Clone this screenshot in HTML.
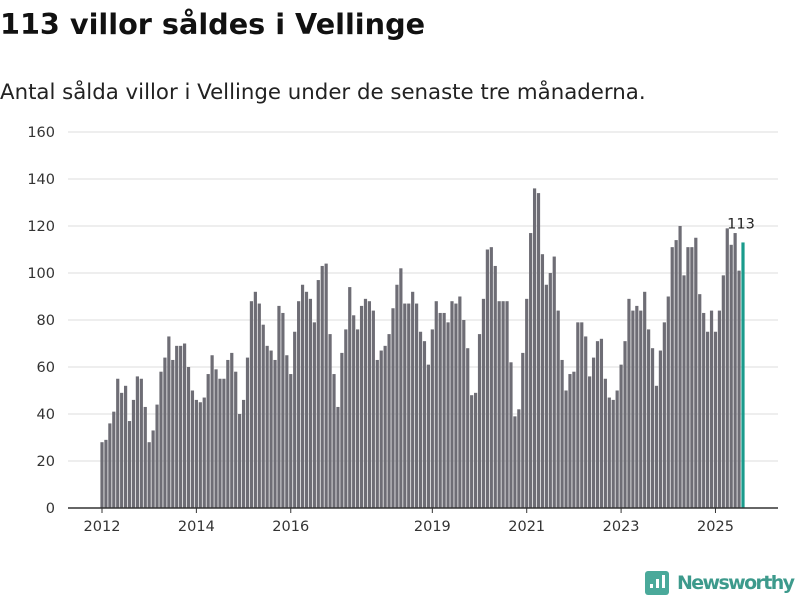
<!DOCTYPE html>
<html><head><meta charset="utf-8"><style>
body{margin:0;background:#fff;font-family:"DejaVu Sans",sans-serif;}
#wrap{position:relative;width:800px;height:600px;overflow:hidden}
h1{position:absolute;left:0px;top:7px;margin:0;font-size:28.7px;font-weight:bold;color:#111}
p{position:absolute;left:0px;top:80px;margin:0;font-size:21.3px;color:#222}
</style></head><body>
<div id="wrap">
<h1>113 villor såldes i Vellinge</h1>
<p>Antal sålda villor i Vellinge under de senaste tre månaderna.</p>
<svg id="chart" width="800" height="600" style="position:absolute;left:0;top:0"></svg>
</div>
<script>
const yTicks=[0,20,40,60,80,100,120,140,160];
const xTickLabels=["2012","2014","2016","2019","2021","2023","2025"];
const xTickIndex=[0,24,48,84,108,132,156];
const values=[
28,29,36,41,55,49,52,37,46,56,55,43,
28,33,44,58,64,73,63,69,69,70,60,50,
46,45,47,57,65,59,55,55,63,66,58,40,
46,64,88,92,87,78,69,67,63,86,83,65,
57,75,88,95,92,89,79,97,103,104,74,57,
43,66,76,94,82,76,86,89,88,84,63,67,
69,74,85,95,102,87,87,92,87,75,71,61,
76,88,83,83,79,88,87,90,80,68,48,49,
74,89,110,111,103,88,88,88,62,39,42,66,
89,117,136,134,108,95,100,107,84,63,50,57,
58,79,79,73,56,64,71,72,55,47,46,50,
61,71,89,84,86,84,92,76,68,52,67,79,
90,111,114,120,99,111,111,115,91,83,75,84,
75,84,99,119,112,117,101,113];
const NS="http://www.w3.org/2000/svg";
const svg=document.getElementById('chart');
const y0=508,ppu=(508-132)/160,x0=102,step=(743-102)/(values.length-1);
const ys=v=>y0-v*ppu, xs=i=>x0+i*step;
const FONT='DejaVu Sans, sans-serif';
function mk(t,a){const e=document.createElementNS(NS,t);for(const k in a)e.setAttribute(k,a[k]);svg.appendChild(e);return e;}
yTicks.forEach(v=>{
  if(v>0){const g=mk('line',{x1:68,x2:778,y1:ys(v),y2:ys(v),stroke:'#dedede','stroke-width':1});
  
  }
  const t=mk('text',{x:55,y:ys(v)+5,'text-anchor':'end','font-size':14.5,fill:'#333','font-family':FONT});
  t.textContent=v;
  
  
});
values.forEach((v,i)=>{
  const last=i===values.length-1;
  const r=mk('rect',{x:xs(i)-1.6,y:ys(v),width:3.2,height:v*ppu,fill:last?'#1a9b8c':'#6e6d75'});
  
  
  if(last){const t=mk('text',{x:xs(i)-2,y:ys(v)-14,'text-anchor':'middle','font-size':14.5,fill:'#222','font-family':FONT});
  t.textContent=v;
  
  }
});
const ax=mk('line',{x1:68,x2:778,y1:y0,y2:y0,stroke:'#333','stroke-width':1.5});


xTickIndex.forEach((ix,k)=>{
  const tk=mk('line',{x1:xs(ix),x2:xs(ix),y1:y0,y2:y0+5,stroke:'#333'});
  
  
  const t=mk('text',{x:xs(ix),y:y0+23,'text-anchor':'middle','font-size':14.5,fill:'#333','font-family':FONT});
  t.textContent=xTickLabels[k];
  
  
});
const lg=mk('g',{});


const b=document.createElementNS(NS,'rect');
[['x',645],['y',571],['width',24],['height',24],['rx',3],['fill','#4aa99a']].forEach(a=>b.setAttribute(a[0],a[1]));lg.appendChild(b);
[[650,584,4],[656,579,9],[662,575,13]].forEach(d=>{const r=document.createElementNS(NS,'rect');r.setAttribute('x',d[0]);r.setAttribute('y',d[1]);r.setAttribute('width',3);r.setAttribute('height',d[2]);r.setAttribute('fill','#fff');lg.appendChild(r);});
const lt=document.createElementNS(NS,'text');
lt.setAttribute('x',677);lt.setAttribute('y',589);lt.setAttribute('font-size',19);lt.setAttribute('font-weight','bold');lt.setAttribute('fill','#3d9a8c');lt.setAttribute('font-family',FONT);
lt.setAttribute('textLength',118);
lt.textContent='Newsworthy';lg.appendChild(lt);
</script>
</body></html>
